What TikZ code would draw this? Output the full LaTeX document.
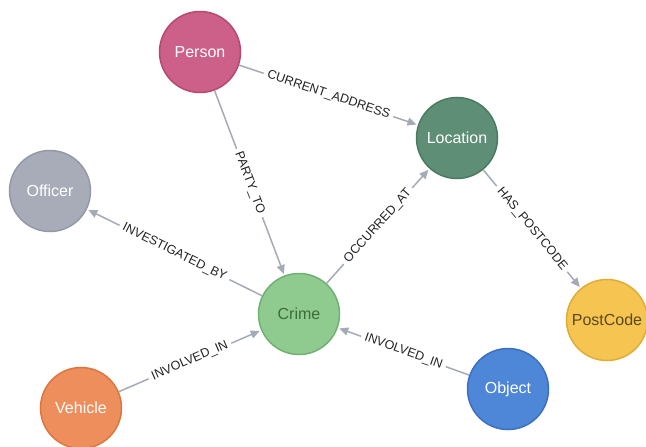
\documentclass[tikz,border=0pt]{standalone}
\usepackage{fontspec}
\setmainfont{Liberation Sans}
\definecolor{cPerson}{HTML}{CC6088}
\definecolor{cPersonB}{HTML}{B8476F}
\definecolor{cLocation}{HTML}{5E8E76}
\definecolor{cLocationB}{HTML}{4A7A62}
\definecolor{cOfficer}{HTML}{A8ACB8}
\definecolor{cOfficerB}{HTML}{9399A5}
\definecolor{cCrime}{HTML}{8FCB8F}
\definecolor{cCrimeB}{HTML}{6FB171}
\definecolor{cCrimeT}{HTML}{3D6B3A}
\definecolor{cPost}{HTML}{F5C451}
\definecolor{cPostB}{HTML}{E0AC35}
\definecolor{cPostT}{HTML}{5A4A20}
\definecolor{cObject}{HTML}{4E87D8}
\definecolor{cObjectB}{HTML}{3A70BF}
\definecolor{cVehicle}{HTML}{EE8E5C}
\definecolor{cVehicleB}{HTML}{D9773F}
\definecolor{cEdge}{HTML}{A5ABB6}
\definecolor{cLabel}{HTML}{222222}
\usetikzlibrary{arrows.meta}
\tikzset{
	entity/.style={circle, minimum size=81pt, inner sep=0pt, line width=1.5pt, font=\fontsize{16}{16}\selectfont},
	rel/.style={draw=cEdge, line width=1.5pt, -{Triangle[length=9pt,width=8pt]}, shorten >=1.5pt},
	rellabel/.style={fill=white, sloped, inner xsep=4pt, inner ysep=1pt, text=cLabel, font=\fontsize{12.5}{12.5}\selectfont}
}

\begin{document}
\begin{tikzpicture}[x=1pt,y=-1pt]
		\useasboundingbox (0,0) rectangle (646,447);
		\fill[white] (0,0) rectangle (646,447);
		% nodes
		\node[entity, fill=cPerson, draw=cPersonB, text=white] (person) at (200,52) {Person};
		\node[entity, fill=cLocation, draw=cLocationB, text=white] (location) at (457,138) {Location};
		\node[entity, fill=cOfficer, draw=cOfficerB, text=white] (officer) at (50,191) {Officer};
		\node[entity, fill=cCrime, draw=cCrimeB, text=cCrimeT] (crime) at (299,314) {Crime};
		\node[entity, fill=cPost, draw=cPostB, text=cPostT] (postcode) at (607,320) {PostCode};
		\node[entity, fill=cObject, draw=cObjectB, text=white] (object) at (508,389) {Object};
		\node[entity, fill=cVehicle, draw=cVehicleB, text=white] (vehicle) at (81,408) {Vehicle};
		% relationships
		\draw[rel] (person) -- node[rellabel] {CURRENT\_ADDRESS} (location);
		\draw[rel] (person) -- node[rellabel] {PARTY\_TO} (crime);
		\draw[rel] (crime) -- node[rellabel] {INVESTIGATED\_BY} (officer);
		\draw[rel] (crime) -- node[rellabel] {OCCURRED\_AT} (location);
		\draw[rel] (location) -- node[rellabel] {HAS\_POSTCODE} (postcode);
		\draw[rel] (vehicle) -- node[rellabel] {INVOLVED\_IN} (crime);
		\draw[rel] (object) -- node[rellabel] {INVOLVED\_IN} (crime);
\end{tikzpicture}
\end{document}
